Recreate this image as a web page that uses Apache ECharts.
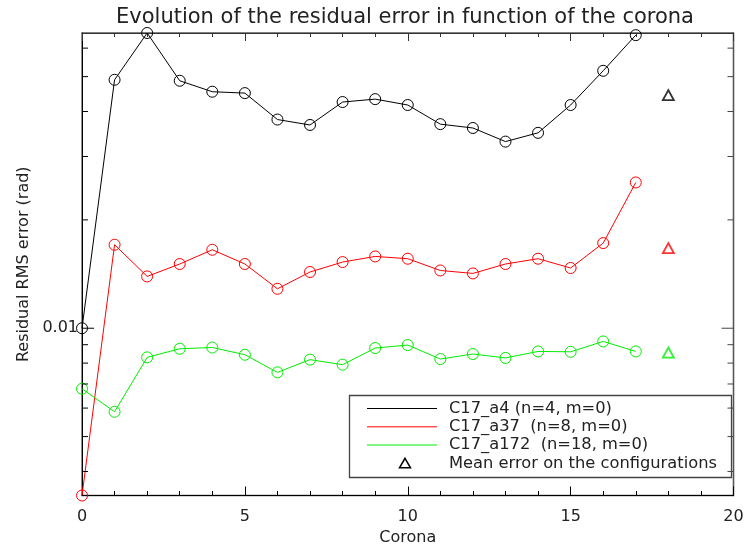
<!DOCTYPE html>
<html>
<head>
<meta charset="utf-8">
<script src="https://cdn.jsdelivr.net/npm/echarts@6/dist/echarts.min.js"></script>
<style>html,body{margin:0;padding:0;background:#fff;}#c{width:745px;height:546px;}</style>
</head>
<body>
<div id="c"></div>
<script>
// ---- data ----
const corona = [0,1,2,3,4,5,6,7,8,9,10,11,12,13,14,15,16,17];
const errA4   = [0.0100,0.0490,0.0661,0.0487,0.0454,0.0450,0.0380,0.0367,0.0425,0.0433,0.0417,0.0369,0.0360,0.0330,0.0349,0.0417,0.0519,0.0652];
const errA37  = [0.00343,0.01706,0.01393,0.01508,0.01652,0.01508,0.01287,0.01433,0.01527,0.01583,0.01560,0.01447,0.01420,0.01508,0.01560,0.01470,0.01724,0.02541];
const errA172 = [0.00679,0.00586,0.00830,0.00877,0.00884,0.00844,0.00754,0.00818,0.00792,0.00881,0.00898,0.00821,0.00848,0.00827,0.00862,0.00860,0.00919,0.00862];
const meanX = 18;
const meanErrors = [0.0444, 0.0167, 0.00855];   // A4, A37, A172
const seriesNames = ['C17_a4 (n=4, m=0)', 'C17_a37  (n=8, m=0)', 'C17_a172  (n=18, m=0)'];
const meanLabel = 'Mean error on the configurations';
const yTickValues = [0.004,0.005,0.006,0.007,0.008,0.009,0.01,0.02,0.03,0.04,0.05,0.06];
const yMajorTicks = [0.01];
const xRange = [0, 20];
const xInterval = 5;

const colors = ['#000000', '#ff0000', '#00ee00'];
const allVals = errA4.concat(errA37, errA172);
const yMin = Math.min.apply(null, allVals);
const yMax = Math.max.apply(null, allVals);
const FONT = 'DejaVu Sans';

const chart = echarts.init(document.getElementById('c'));

function lineSeries(vals, color) {
  return {
    type: 'line', xAxisIndex: 0, yAxisIndex: 0,
    data: corona.map((c, i) => [c, vals[i]]),
    symbol: 'circle', symbolSize: 11,
    itemStyle: { color: 'rgba(0,0,0,0)', borderColor: color, borderWidth: 1 },
    lineStyle: { color: color, width: 1 },
    emphasis: { disabled: true },
    clip: true, animation: false, z: 3
  };
}
function meanSeries(v, color) {
  return {
    type: 'scatter', xAxisIndex: 0, yAxisIndex: 0,
    data: [[meanX, v]],
    symbol: 'triangle', symbolSize: [11, 10],
    itemStyle: { color: 'rgba(0,0,0,0)', borderColor: color, borderWidth: 1.8 },
    emphasis: { disabled: true }, animation: false, z: 3
  };
}

const tickSeries = {
  type: 'custom', xAxisIndex: 0, yAxisIndex: 0,
  data: yTickValues.map(v => [xRange[0], v]),
  encode: { x: 0, y: 1 },
  silent: true, clip: false, animation: false, z: 4,
  renderItem: function (params, api) {
    const v = api.value(1);
    const pL = api.coord([xRange[0], v]);
    const pR = api.coord([xRange[1], v]);
    const major = yMajorTicks.some(m => Math.abs(m - v) < 1e-12);
    const len = major ? 12 : 6;
    return {
      type: 'group',
      children: [
        { type: 'line', shape: { x1: pL[0], y1: pL[1], x2: pL[0] + len, y2: pL[1] }, style: { stroke: '#000', lineWidth: 1 } },
        { type: 'line', shape: { x1: pR[0] - len, y1: pR[1], x2: pR[0], y2: pR[1] }, style: { stroke: '#444', lineWidth: 1 } }
      ]
    };
  }
};

// legend drawn as graphic
const lgX = 349.5, lgY = 395.5, lgW = 382, lgH = 82;
const rowY = [408.5, 426.8, 445, 463.3];
const LFONT = '16.3px "' + FONT + '"';
const legendChildren = [
  { type: 'rect', shape: { x: lgX, y: lgY, width: lgW, height: lgH }, style: { fill: 'none', stroke: '#444', lineWidth: 1.3 } }
];
seriesNames.forEach((n, i) => {
  legendChildren.push({ type: 'line', shape: { x1: 367, y1: rowY[i], x2: 437, y2: rowY[i] }, style: { stroke: colors[i], lineWidth: 1 } });
  legendChildren.push({ type: 'text', x: 449, y: rowY[i], style: { text: n, font: LFONT, fill: '#222', textVerticalAlign: 'middle' } });
});
legendChildren.push({ type: 'polygon', shape: { points: [[405, rowY[3] - 5], [410.5, rowY[3] + 4.5], [399.5, rowY[3] + 4.5]] }, style: { fill: 'none', stroke: '#000', lineWidth: 1.5 } });
legendChildren.push({ type: 'text', x: 449, y: rowY[3], style: { text: meanLabel, font: LFONT, fill: '#222', textVerticalAlign: 'middle' } });

const option = {
  backgroundColor: '#fff',
  animation: false,
  title: {
    text: 'Evolution of the residual error in function of the corona',
    left: 400, top: 2, textAlign: 'center',
    textStyle: { fontFamily: FONT, fontSize: 21, fontWeight: 'normal', color: '#222' }
  },
  grid: {
    left: 82, right: 11.5, top: 33, bottom: 50.5, containLabel: false, outerBoundsMode: 'none',
    show: true, borderColor: '#555', borderWidth: 1.3, backgroundColor: 'rgba(0,0,0,0)'
  },
  xAxis: [
    {
      type: 'value', position: 'bottom', min: xRange[0], max: xRange[1], interval: xInterval,
      name: 'Corona', nameLocation: 'middle', nameGap: 32,
      nameTextStyle: { fontFamily: FONT, fontSize: 16, color: '#222' },
      axisLine: { onZero: false, lineStyle: { color: '#000', width: 1 } },
      axisTick: { inside: true, length: 9, lineStyle: { color: '#000' } },
      minorTick: { show: true, splitNumber: 5, length: 4.5, lineStyle: { color: '#000' } },
      axisLabel: { margin: 13, fontFamily: FONT, fontSize: 16, color: '#222' },
      splitLine: { show: false }
    },
    {
      type: 'value', position: 'top', min: xRange[0], max: xRange[1], interval: xInterval,
      axisLine: { onZero: false, lineStyle: { color: '#333', width: 1 } },
      axisTick: { inside: true, length: 8, lineStyle: { color: '#333' } },
      minorTick: { show: true, splitNumber: 5, length: 4, lineStyle: { color: '#333' } },
      axisLabel: { show: false },
      splitLine: { show: false }
    }
  ],
  yAxis: [
    {
      type: 'log', logBase: 10, min: yMin, max: yMax, position: 'left',
      name: 'Residual RMS error (rad)', nameLocation: 'middle', nameGap: 50,
      nameTextStyle: { fontFamily: FONT, fontSize: 16, color: '#222' },
      axisLine: { show: true, onZero: false, lineStyle: { color: '#000', width: 1 } },
      axisTick: { show: false },
      axisLabel: {
        showMinLabel: false, showMaxLabel: false, margin: 4,
        fontFamily: FONT, fontSize: 16, color: '#222',
        formatter: function (v) { return yMajorTicks.some(m => Math.abs(m - v) < 1e-9) ? String(v) : ''; }
      },
      splitLine: { show: false }
    },
    {
      type: 'value', min: 0, max: 1, position: 'right',
      axisLine: { show: true, onZero: false, lineStyle: { color: '#555', width: 1.3 } },
      axisTick: { show: false }, axisLabel: { show: false }, splitLine: { show: false }
    }
  ],
  series: [
    lineSeries(errA4, colors[0]),
    lineSeries(errA37, colors[1]),
    lineSeries(errA172, colors[2]),
    meanSeries(meanErrors[0], colors[0]),
    meanSeries(meanErrors[1], colors[1]),
    meanSeries(meanErrors[2], colors[2]),
    tickSeries
  ],
  graphic: [{ type: 'group', silent: true, children: legendChildren }]
};
chart.setOption(option);
</script>
</body>
</html>
